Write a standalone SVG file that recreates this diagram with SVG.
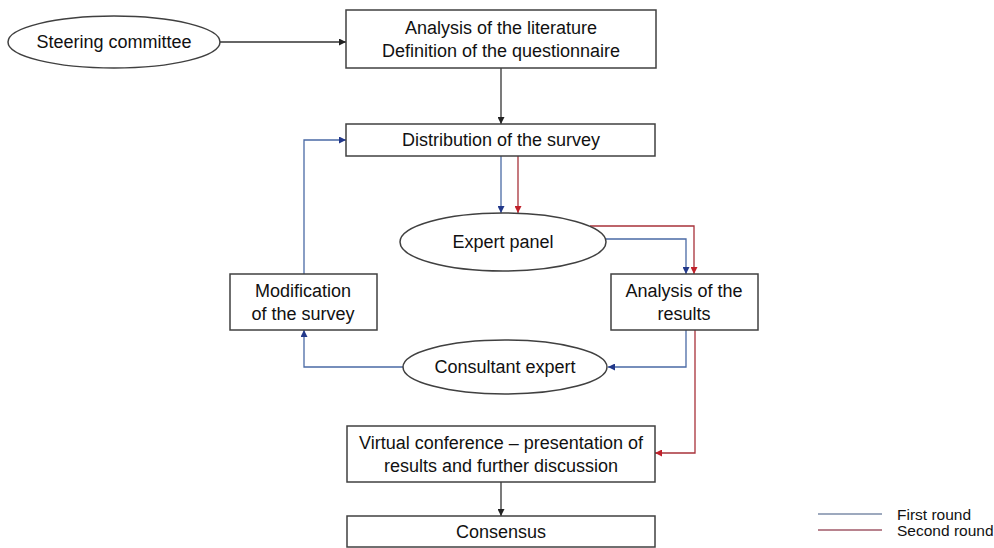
<svg xmlns="http://www.w3.org/2000/svg" width="994" height="548" viewBox="0 0 994 548">
<style>
.n{fill:#fff;stroke:#404040;stroke-width:1.5}
.t{font-family:"Liberation Sans",Arial,sans-serif;font-size:18px;fill:#111;text-anchor:middle;dominant-baseline:central}
.lt{font-family:"Liberation Sans",Arial,sans-serif;font-size:15.5px;fill:#111;dominant-baseline:central}
.k{fill:none;stroke:#333;stroke-width:1.3}
.b{fill:none;stroke:#4a6aa5;stroke-width:1.3}
.r{fill:none;stroke:#a8323a;stroke-width:1.3}
</style>
<defs>
<marker id="ak" viewBox="0 0 10 10" refX="10" refY="5" markerWidth="7" markerHeight="7" markerUnits="userSpaceOnUse" orient="auto"><path d="M0,0L10,5L0,10z" fill="#222"/></marker>
<marker id="ab" viewBox="0 0 10 10" refX="10" refY="5" markerWidth="7" markerHeight="7" markerUnits="userSpaceOnUse" orient="auto"><path d="M0,0L10,5L0,10z" fill="#22388a"/></marker>
<marker id="ar" viewBox="0 0 10 10" refX="10" refY="5" markerWidth="7" markerHeight="7" markerUnits="userSpaceOnUse" orient="auto"><path d="M0,0L10,5L0,10z" fill="#c0202a"/></marker>
</defs>
<g id="connectors">
<path class="k" d="M220,42H346" marker-end="url(#ak)"/>
<path class="k" d="M501,68V124" marker-end="url(#ak)"/>
<path class="b" d="M501,156V213" marker-end="url(#ab)"/>
<path class="r" d="M518,156V213" marker-end="url(#ar)"/>
<path class="r" d="M590,226H694V274" marker-end="url(#ar)"/>
<path class="b" d="M604,239H686V274" marker-end="url(#ab)"/>
<path class="b" d="M304,274V140H346" marker-end="url(#ab)"/>
<path class="b" d="M686,330V367H608" marker-end="url(#ab)"/>
<path class="b" d="M403,367H304V330" marker-end="url(#ab)"/>
<path class="r" d="M695,330V453H655" marker-end="url(#ar)"/>
<path class="k" d="M501,482V516" marker-end="url(#ak)"/>
</g>
<g id="steering"><ellipse class="n" cx="114" cy="42" rx="106" ry="26"/><text class="t" x="114" y="42">Steering committee</text></g>
<g id="literature"><rect class="n" x="346" y="10" width="310" height="58"/><text class="t" x="501" y="28">Analysis of the literature</text><text class="t" x="501" y="51">Definition of the questionnaire</text></g>
<g id="distribution"><rect class="n" x="346" y="124" width="309" height="32"/><text class="t" x="501" y="140">Distribution of the survey</text></g>
<g id="expert"><ellipse class="n" cx="503" cy="242" rx="103" ry="29"/><text class="t" x="503" y="242">Expert panel</text></g>
<g id="analysis"><rect class="n" x="611" y="274" width="147" height="56"/><text class="t" x="684" y="291">Analysis of the</text><text class="t" x="684" y="314">results</text></g>
<g id="modification"><rect class="n" x="230" y="274" width="147" height="56"/><text class="t" x="303" y="291">Modification</text><text class="t" x="303" y="314">of the survey</text></g>
<g id="consultant"><ellipse class="n" cx="505" cy="367" rx="102" ry="27"/><text class="t" x="505" y="367">Consultant expert</text></g>
<g id="conference"><rect class="n" x="347" y="426" width="308" height="56"/><text class="t" x="501" y="443">Virtual conference – presentation of</text><text class="t" x="501" y="466">results and further discussion</text></g>
<g id="consensus"><rect class="n" x="347" y="516" width="308" height="31"/><text class="t" x="501" y="532">Consensus</text></g>
<g id="legend">
<path d="M818,514H882" stroke="#7d8ca8" stroke-width="1.3"/>
<path d="M818,530H882" stroke="#a05a68" stroke-width="1.3"/>
<text class="lt" x="897" y="514">First round</text>
<text class="lt" x="897" y="530">Second round</text>
</g>
</svg>
